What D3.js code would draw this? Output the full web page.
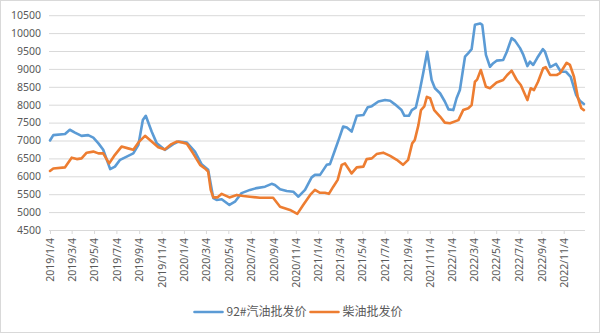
<!DOCTYPE html>
<html>
<head>
<meta charset="utf-8">
<script src="https://cdn.jsdelivr.net/npm/d3@7"></script>
<style>
  html, body { margin: 0; padding: 0; background: #fff; }
  svg { display: block; }
  text { font-family: "Noto Sans", "Noto Sans CJK SC", sans-serif; fill: #595959; }
</style>
</head>
<body>
<svg id="chart" width="600" height="333"></svg>
<script>
// Weekly-ish wholesale prices (yuan/ton)
const gasName = "92#汽油批发价";
const dieselName = "柴油批发价";

const gasDates = ["2019-01-04","2019-01-13","2019-02-14","2019-02-27","2019-03-13","2019-03-31","2019-04-18","2019-05-02","2019-05-16","2019-05-29",
  "2019-06-17","2019-06-30","2019-07-14","2019-08-01","2019-08-19","2019-09-02","2019-09-14","2019-09-22","2019-10-08","2019-10-22",
  "2019-11-13","2019-12-06","2019-12-20","2020-01-12","2020-02-03","2020-02-21","2020-03-10","2020-03-20","2020-03-24","2020-04-02",
  "2020-04-16","2020-05-07","2020-05-22","2020-06-09","2020-07-02","2020-07-20","2020-08-12","2020-08-30","2020-09-08","2020-09-22",
  "2020-10-10","2020-10-28","2020-11-11","2020-11-29","2020-12-17","2020-12-26","2021-01-09","2021-01-27","2021-02-05","2021-02-19",
  "2021-03-02","2021-03-13","2021-03-23","2021-04-05","2021-04-19","2021-05-07","2021-05-19","2021-05-30","2021-06-17","2021-07-05",
  "2021-07-19","2021-08-01","2021-08-19","2021-08-27","2021-09-08","2021-09-16","2021-09-27","2021-10-08","2021-10-17","2021-10-28",
  "2021-11-09","2021-11-18","2021-12-02","2021-12-15","2021-12-25","2022-01-07","2022-01-16","2022-01-25","2022-02-08","2022-02-17",
  "2022-02-26","2022-03-07","2022-03-21","2022-03-27","2022-04-06","2022-04-17","2022-04-26","2022-05-05","2022-05-23","2022-06-02",
  "2022-06-15","2022-06-24","2022-07-08","2022-07-17","2022-07-28","2022-08-04","2022-08-13","2022-08-24","2022-09-08","2022-09-14",
  "2022-09-28","2022-10-14","2022-10-27","2022-11-10","2022-11-23","2022-12-08","2022-12-18","2022-12-29"];
const gasValues = [7000,7150,7180,7300,7220,7130,7150,7080,6920,6740,
  6200,6270,6460,6550,6640,6880,7570,7690,7250,6920,
  6740,6900,6970,6940,6690,6340,6180,5620,5390,5340,
  5360,5200,5290,5530,5620,5670,5710,5790,5760,5640,
  5590,5570,5430,5620,5970,6040,6040,6320,6340,6740,
  7060,7390,7360,7250,7690,7710,7930,7960,8090,8130,
  8110,8010,7850,7690,7690,7850,7920,8410,8880,9480,
  8690,8460,8320,8090,7870,7850,8180,8410,9340,9440,
  9550,10230,10270,10230,9390,9060,9160,9230,9250,9480,
  9860,9790,9580,9390,9080,9200,9110,9310,9550,9480,
  9050,9140,8920,8920,8780,8270,8110,8020];

const dieselDates = ["2019-01-04","2019-01-13","2019-02-14","2019-03-04","2019-03-18","2019-03-31","2019-04-14","2019-05-02","2019-05-16","2019-05-29",
  "2019-06-14","2019-06-30","2019-07-18","2019-08-05","2019-08-19","2019-09-04","2019-09-20","2019-10-08","2019-10-26","2019-11-13",
  "2019-12-01","2019-12-15","2020-01-02","2020-01-12","2020-01-29","2020-02-17","2020-03-01","2020-03-10","2020-03-17","2020-03-24",
  "2020-04-04","2020-04-16","2020-05-07","2020-05-27","2020-06-14","2020-07-02","2020-07-29","2020-09-03","2020-09-22","2020-10-19",
  "2020-11-08","2020-11-24","2020-12-13","2020-12-26","2021-01-09","2021-01-22","2021-02-02","2021-02-14","2021-02-26","2021-03-09",
  "2021-03-18","2021-04-05","2021-04-19","2021-05-07","2021-05-16","2021-05-30","2021-06-12","2021-06-30","2021-07-19","2021-08-06",
  "2021-08-23","2021-09-06","2021-09-17","2021-09-24","2021-10-04","2021-10-11","2021-10-20","2021-10-27","2021-11-05","2021-11-16",
  "2021-12-02","2021-12-15","2021-12-29","2022-01-21","2022-02-03","2022-02-17","2022-02-26","2022-03-07","2022-03-13","2022-03-23",
  "2022-04-06","2022-04-17","2022-05-05","2022-05-23","2022-06-03","2022-06-15","2022-06-29","2022-07-10","2022-07-28","2022-08-06",
  "2022-08-15","2022-08-26","2022-09-09","2022-09-16","2022-09-28","2022-10-16","2022-10-25","2022-11-12","2022-11-21","2022-12-02",
  "2022-12-13","2022-12-22","2022-12-29"];
const dieselValues = [6150,6220,6250,6520,6480,6500,6660,6690,6640,6640,
  6360,6600,6830,6780,6740,6970,7130,6970,6810,6750,
  6900,6970,6940,6910,6640,6320,6220,6130,5620,5410,
  5410,5510,5410,5480,5450,5430,5400,5400,5150,5060,
  4950,5200,5480,5620,5540,5540,5510,5710,5900,6320,
  6360,6080,6250,6270,6480,6500,6620,6660,6570,6460,
  6320,6460,6920,7010,7430,7850,7950,8220,8180,7850,
  7670,7500,7480,7570,7850,7900,7990,8640,8700,8970,
  8500,8460,8620,8690,8830,8950,8690,8550,8130,8460,
  8410,8640,9020,9050,8830,8830,8880,9170,9110,8780,
  8180,7900,7850];

const tickLabels = ["2019/1/4","2019/3/4","2019/5/4","2019/7/4","2019/9/4","2019/11/4",
  "2020/1/4","2020/3/4","2020/5/4","2020/7/4","2020/9/4","2020/11/4",
  "2021/1/4","2021/3/4","2021/5/4","2021/7/4","2021/9/4","2021/11/4",
  "2022/1/4","2022/3/4","2022/5/4","2022/7/4","2022/9/4","2022/11/4"];
const yTicks = [4500,5000,5500,6000,6500,7000,7500,8000,8500,9000,9500,10000,10500];

const parseDay = d3.timeParse("%Y-%m-%d");
const parseTick = d3.timeParse("%Y/%m/%d");

const gasData = d3.zip(gasDates, gasValues).map(([d, v]) => ({ date: parseDay(d), value: v }));
const dieselData = d3.zip(dieselDates, dieselValues).map(([d, v]) => ({ date: parseDay(d), value: v }));
const tickDates = tickLabels.map(parseTick);

const svg = d3.select("#chart");
const W = 600, H = 333;
const plot = { left: 50, right: 585, top: 15.2, bottom: 230 };

// chart frame
svg.append("rect")
  .attr("x", 0.5).attr("y", 0.5)
  .attr("width", W - 1).attr("height", H - 1)
  .attr("fill", "#fff").attr("stroke", "#d9d9d9");

const x = d3.scaleTime()
  .domain([parseDay("2019-01-04"), parseDay("2023-01-01")])
  .range([plot.left, plot.right]);

const y = d3.scaleLinear()
  .domain([4500, 10500])
  .range([plot.bottom, plot.top]);

// horizontal gridlines + y labels
const yAxis = svg.append("g")
  .attr("transform", `translate(${plot.left - 1},0)`)
  .call(d3.axisLeft(y).tickValues(yTicks).tickSize(-(plot.right - plot.left + 1)).tickPadding(8).tickFormat(d3.format("d")));
yAxis.select(".domain").remove();
yAxis.selectAll(".tick line").attr("stroke", "#d9d9d9").attr("stroke-width", 1);
yAxis.selectAll(".tick text")
  .attr("font-size", "10.5px")
  .style("font-family", "'Noto Sans', sans-serif")
  .attr("fill", "#595959");

// x axis with rotated date labels
const fmt = d => `${d.getFullYear()}/${d.getMonth() + 1}/${d.getDate()}`;
const xAxis = svg.append("g")
  .attr("transform", `translate(0,${plot.bottom})`)
  .call(d3.axisBottom(x).tickValues(tickDates).tickSize(4).tickSizeOuter(0).tickFormat(fmt));
xAxis.select(".domain")
  .attr("stroke", "#d9d9d9")
  .attr("d", `M${plot.left - 1},0.5H${plot.right}`);
xAxis.selectAll(".tick line").attr("stroke", "#d9d9d9");
xAxis.selectAll(".tick text")
  .attr("transform", "rotate(-90)")
  .attr("text-anchor", "end")
  .attr("x", -8)
  .attr("y", 0)
  .attr("dy", "0.35em")
  .attr("font-size", "10.5px")
  .style("font-family", "'Noto Sans', sans-serif")
  .attr("fill", "#595959");

// series lines
const line = d3.line()
  .x(d => x(d.date))
  .y(d => y(d.value))
  .curve(d3.curveLinear);

const series = [
  { name: gasName, data: gasData, color: "#5B9BD5" },
  { name: dieselName, data: dieselData, color: "#ED7D31" }
];

svg.append("g").selectAll("path")
  .data(series)
  .join("path")
  .attr("d", s => line(s.data))
  .attr("fill", "none")
  .attr("stroke", s => s.color)
  .attr("stroke-width", 2.6)
  .attr("stroke-linejoin", "round")
  .attr("stroke-linecap", "round");

// legend, centred under the plot
const legend = svg.append("g");
const items = legend.selectAll("g").data(series).join("g");
items.append("line")
  .attr("x1", 0).attr("x2", 28)
  .attr("y1", 0).attr("y2", 0)
  .attr("stroke", s => s.color)
  .attr("stroke-width", 2.6)
  .attr("stroke-linecap", "round");
items.append("text")
  .attr("x", 32)
  .attr("y", 0)
  .attr("dy", "0.36em")
  .attr("font-size", "12px")
  .style("font-family", "'Noto Sans CJK SC', 'Noto Sans', sans-serif")
  .attr("fill", "#595959")
  .text(s => s.name);

let offset = 0;
const widths = [];
items.each(function () {
  const w = 32 + d3.select(this).select("text").node().getComputedTextLength();
  widths.push(w);
});
const gap = 4;
const total = d3.sum(widths) + gap * (widths.length - 1);
const startX = 298.5 - total / 2;
items.attr("transform", (s, i) => {
  const t = `translate(${startX + offset},312)`;
  offset += widths[i] + gap;
  return t;
});
</script>
</body>
</html>
